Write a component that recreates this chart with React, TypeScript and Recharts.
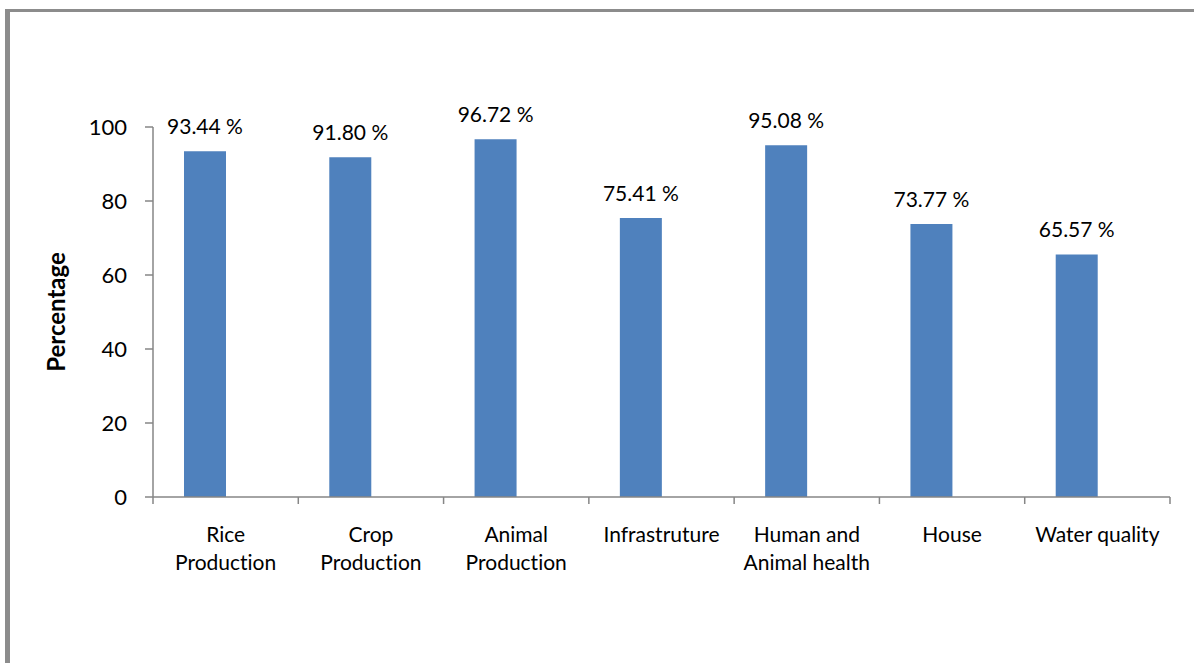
import React from "react";
import { BarChart, Bar, XAxis, YAxis, LabelList } from "recharts";

const categories = [
  "Rice\nProduction",
  "Crop\nProduction",
  "Animal\nProduction",
  "Infrastruture",
  "Human and\nAnimal health",
  "House",
  "Water quality",
];
const percentages = [93.44, 91.8, 96.72, 75.41, 95.08, 73.77, 65.57];
// Excel chart had a second (empty) series, which pushes bars left of centre
const emptySeries: (number | null)[] = [null, null, null, null, null, null, null];
const yTicks = [0, 20, 40, 60, 80, 100];

const data = categories.map((name, i) => ({
  name,
  value: percentages[i],
  empty: emptySeries[i],
}));

const FONT = "Lato, 'Open Sans', sans-serif";
const AXIS_GRAY = "#868686";
const BAR_BLUE = "#4F81BD";

const CHART_W = 1194;
const CHART_H = 663;
const MARGIN = { top: 127, right: 24, left: 93, bottom: 86 };

function CategoryTick(props: any) {
  const { x, y, payload, index } = props;
  const half =
    payload?.offset ?? (CHART_W - MARGIN.left - 60 - MARGIN.right) / categories.length / 2;
  const lines = String(payload.value).split("\n");
  return (
    <g>
      <line x1={x - half} x2={x - half} y1={y} y2={y + 7} stroke={AXIS_GRAY} strokeWidth={1.5} />
      {index === categories.length - 1 && (
        <line x1={x + half} x2={x + half} y1={y} y2={y + 7} stroke={AXIS_GRAY} strokeWidth={1.5} />
      )}
      <text x={x} y={y + 45} textAnchor="middle" fontSize={21} fontFamily={FONT} fill="#000">
        {lines.map((l, i) => (
          <tspan key={i} x={x} dy={i === 0 ? 0 : 28}>
            {l}
          </tspan>
        ))}
      </text>
    </g>
  );
}

function YTitle(props: any) {
  const { viewBox } = props;
  const cx = viewBox.x - 38;
  const cy = viewBox.y + viewBox.height / 2;
  return (
    <text
      x={cx}
      y={cy}
      transform={`rotate(-90 ${cx} ${cy})`}
      textAnchor="middle"
      dominantBaseline="central"
      fontSize={24}
      fontWeight="bold"
      fontFamily={FONT}
      fill="#000"
    >
      Percentage
    </text>
  );
}

function ValueLabel(props: any) {
  const { x, y, width, value } = props;
  return (
    <text
      x={x + width / 2}
      y={y - 17}
      textAnchor="middle"
      fontSize={21}
      fontFamily={FONT}
      fill="#000"
    >
      {`${Number(value).toFixed(2)} %`}
    </text>
  );
}

export default function App() {
  return (
    <div
      style={{
        position: "absolute",
        top: 0,
        left: 0,
        width: CHART_W,
        height: CHART_H,
        background: "#fff",
        overflow: "hidden",
        fontVariantLigatures: "none",
      }}
    >
      <div
        style={{
          position: "absolute",
          left: 5,
          top: 9,
          width: CHART_W + 20,
          height: CHART_H + 20,
          borderLeft: "5px solid #8c8c8c",
          borderTop: "3px solid #8c8c8c",
        }}
      />
      <div style={{ position: "absolute", top: 0, left: 0 }}>
        <BarChart
          width={CHART_W}
          height={CHART_H}
          data={data}
          margin={MARGIN}
          barGap={0}
          barSize={42}
        >
          <XAxis
            dataKey="name"
            interval={0}
            tickLine={false}
            tickSize={0}
            tickMargin={0}
            height={80}
            axisLine={{ stroke: AXIS_GRAY, strokeWidth: 1.5 }}
            tick={<CategoryTick />}
          />
          <YAxis
            width={60}
            domain={[0, 100]}
            ticks={yTicks}
            interval={0}
            tickSize={8}
            tickMargin={18}
            axisLine={{ stroke: AXIS_GRAY, strokeWidth: 1.5 }}
            tickLine={{ stroke: AXIS_GRAY, strokeWidth: 1.5 }}
            tick={{ fill: "#000", fontSize: 22, fontFamily: FONT }}
            label={<YTitle />}
          />
          <Bar dataKey="value" fill={BAR_BLUE} isAnimationActive={false}>
            <LabelList dataKey="value" content={<ValueLabel />} />
          </Bar>
          <Bar dataKey="empty" fill={BAR_BLUE} isAnimationActive={false} />
        </BarChart>
      </div>
    </div>
  );
}
